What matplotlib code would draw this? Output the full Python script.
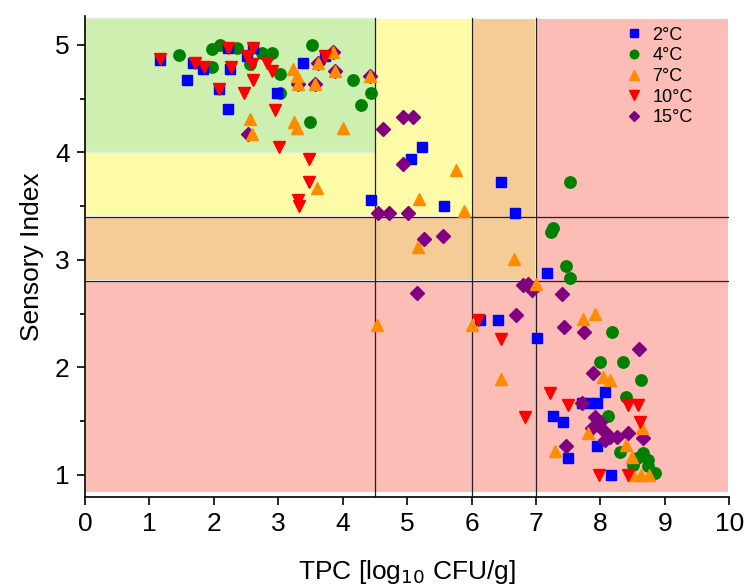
import matplotlib
matplotlib.use("Agg")
import matplotlib.pyplot as plt
from matplotlib.patches import Rectangle
from matplotlib.ticker import MultipleLocator

plt.rcParams['font.family'] = ['Liberation Sans', 'DejaVu Sans']

labels = ['2°C', '4°C', '7°C', '10°C', '15°C']

x_2 = [1.16, 1.68, 1.83, 2.25, 2.08, 2.22, 2.61, 2.52, 3.73, 1.58, 2.22, 2.98, 3.39,
       4.44, 5.06, 5.23, 5.57, 6.46, 6.68, 7.17, 6.13, 6.41, 7.02, 7.27, 7.42, 7.50,
       7.72, 7.84, 7.95, 8.07, 7.95, 8.17]
y_2 = [4.86, 4.83, 4.78, 4.78, 4.59, 4.97, 4.97, 4.90, 4.90, 4.67, 4.40, 4.55, 4.83,
       3.56, 3.94, 4.05, 3.50, 3.72, 3.44, 2.88, 2.44, 2.44, 2.27, 1.55, 1.49, 1.16,
       1.67, 1.67, 1.67, 1.77, 1.27, 1.00]

x_4 = [1.46, 1.97, 2.10, 2.36, 1.97, 2.56, 2.75, 2.90, 3.03, 3.03, 3.52, 3.49, 4.16,
       4.29, 4.44, 7.52, 7.27, 7.24, 7.47, 7.53, 8.18, 8.00, 8.35, 8.63, 8.39, 8.11,
       8.31, 8.66, 8.51, 8.73, 8.85, 8.74, 8.56]
y_4 = [4.91, 4.96, 5.00, 4.97, 4.79, 4.82, 4.92, 4.92, 4.73, 4.55, 5.00, 4.28, 4.67,
       4.44, 4.55, 3.72, 3.30, 3.26, 2.94, 2.83, 2.33, 2.05, 2.05, 1.88, 1.72, 1.55,
       1.21, 1.20, 1.09, 1.08, 1.02, 1.14, 1.16]

x_7 = [2.56, 2.59, 3.25, 3.29, 4.00, 3.23, 3.29, 3.31, 3.57, 3.62, 3.85, 3.88, 4.43,
       3.60, 5.76, 5.19, 5.89, 5.17, 6.66, 7.00, 4.53, 6.01, 7.73, 7.92, 6.46, 7.30,
       7.81, 8.04, 8.15, 8.65, 8.39, 8.49, 8.51, 8.63, 8.76]
y_7 = [4.31, 4.17, 4.28, 4.23, 4.23, 4.78, 4.71, 4.64, 4.64, 4.83, 4.93, 4.76, 4.71,
       3.67, 3.84, 3.57, 3.45, 3.12, 3.01, 2.78, 2.39, 2.39, 2.45, 2.50, 1.89, 1.22,
       1.39, 1.91, 1.88, 1.44, 1.28, 1.17, 1.00, 1.00, 1.00]

x_10 = [1.16, 1.71, 1.85, 2.27, 2.08, 2.22, 2.61, 2.52, 2.59, 2.83, 2.90, 2.61, 2.47,
        2.95, 3.01, 3.73, 3.48, 3.48, 3.31, 3.32, 6.10, 6.46, 7.22, 6.83, 7.50, 8.43,
        8.59, 8.62, 7.98, 8.42]
y_10 = [4.87, 4.83, 4.79, 4.79, 4.59, 4.97, 4.97, 4.90, 4.82, 4.83, 4.76, 4.67, 4.55,
        4.39, 4.05, 4.90, 3.94, 3.72, 3.56, 3.50, 2.44, 2.26, 1.76, 1.54, 1.65, 1.65,
        1.65, 1.49, 1.00, 1.00]

x_15 = [2.53, 3.31, 3.57, 3.88, 4.43, 3.62, 3.85, 4.63, 4.94, 5.09, 4.94, 4.55, 4.72,
        5.02, 5.26, 5.56, 5.16, 6.80, 6.88, 6.94, 7.41, 6.69, 7.44, 7.75, 8.60, 7.89,
        7.72, 7.92, 8.00, 8.04, 8.15, 8.26, 8.42, 8.66, 8.07, 7.87, 7.47]
y_15 = [4.17, 4.64, 4.64, 4.76, 4.71, 4.83, 4.93, 4.22, 4.33, 4.33, 3.89, 3.44, 3.44,
        3.44, 3.19, 3.22, 2.69, 2.77, 2.78, 2.72, 2.68, 2.49, 2.38, 2.33, 2.17, 1.95,
        1.67, 1.54, 1.49, 1.42, 1.35, 1.35, 1.39, 1.34, 1.32, 1.44, 1.27]

tpc_limits = [4.5, 6.0, 7.0]
sensory_limits = [4.0, 3.4, 2.8]

fig = plt.figure(figsize=(7.45, 5.88), dpi=100)
ax = fig.add_axes([0.114, 0.155, 0.865, 0.818])
ax.set_xlim(0, 10)
ax.set_ylim(0.795, 5.27)

top = 5.25
bottom = 0.83
zone_colors = ['#fbbdb5', '#f5cc98', '#fefba8', '#cdefaf']
ax.add_patch(Rectangle((0, bottom), 10, top - bottom, facecolor=zone_colors[0],
                       edgecolor='white', lw=1.5, zorder=0))
ax.add_patch(Rectangle((0, sensory_limits[2]), tpc_limits[2], top - sensory_limits[2],
                       facecolor=zone_colors[1], edgecolor='white', lw=1.5, zorder=0.1))
ax.add_patch(Rectangle((0, sensory_limits[1]), tpc_limits[1], top - sensory_limits[1],
                       facecolor=zone_colors[2], edgecolor='white', lw=1.5, zorder=0.2))
ax.add_patch(Rectangle((0, sensory_limits[0]), tpc_limits[0], top - sensory_limits[0],
                       facecolor=zone_colors[3], edgecolor='#e0f0d0', lw=1.0, zorder=0.3))

for xv in tpc_limits:
    ax.plot([xv, xv], [0.795, top], color='#222222', lw=0.9, zorder=1)
for yv in sensory_limits[1:]:
    ax.plot([0, 10], [yv, yv], color='#222222', lw=0.9, zorder=1)

ms = 7.5
h2, = ax.plot(x_2, y_2, 's', color='#0000ff', ms=ms - 0.3, ls='none', zorder=3)
h4, = ax.plot(x_4, y_4, 'o', color='#008000', ms=ms + 0.7, ls='none', zorder=2)
h15, = ax.plot(x_15, y_15, 'D', color='#800080', ms=ms - 0.3, ls='none', zorder=3)
h7, = ax.plot(x_7, y_7, '^', color='#ff8c00', ms=ms + 1.2, ls='none', zorder=4)
h10, = ax.plot(x_10, y_10, 'v', color='#ff0000', ms=ms + 1.2, ls='none', zorder=4)

leg = ax.legend([h2, h4, h7, h10, h15], labels, loc='upper right', frameon=False,
                fontsize=13, markerscale=0.75, handletextpad=0.5, labelspacing=0.2,
                borderaxespad=0.2, handlelength=1.0, bbox_to_anchor=(0.96, 1.0))

for s in ['top', 'right']:
    ax.spines[s].set_visible(False)
for s in ['left', 'bottom']:
    ax.spines[s].set_linewidth(1.2)

ax.set_xticks(range(0, 11))
ax.set_yticks([1, 2, 3, 4, 5])
ax.yaxis.set_minor_locator(MultipleLocator(0.5))
ax.tick_params(axis='both', which='major', direction='out', length=6, width=1.2,
               labelsize=19, pad=5)
ax.tick_params(axis='y', which='minor', direction='out', length=3.5, width=1.2)

ax.set_xlabel('TPC [log$_{10}$ CFU/g]', fontsize=19, labelpad=16)
ax.set_ylabel('Sensory Index', fontsize=19, labelpad=8)

fig.savefig('out.png', dpi=100)
